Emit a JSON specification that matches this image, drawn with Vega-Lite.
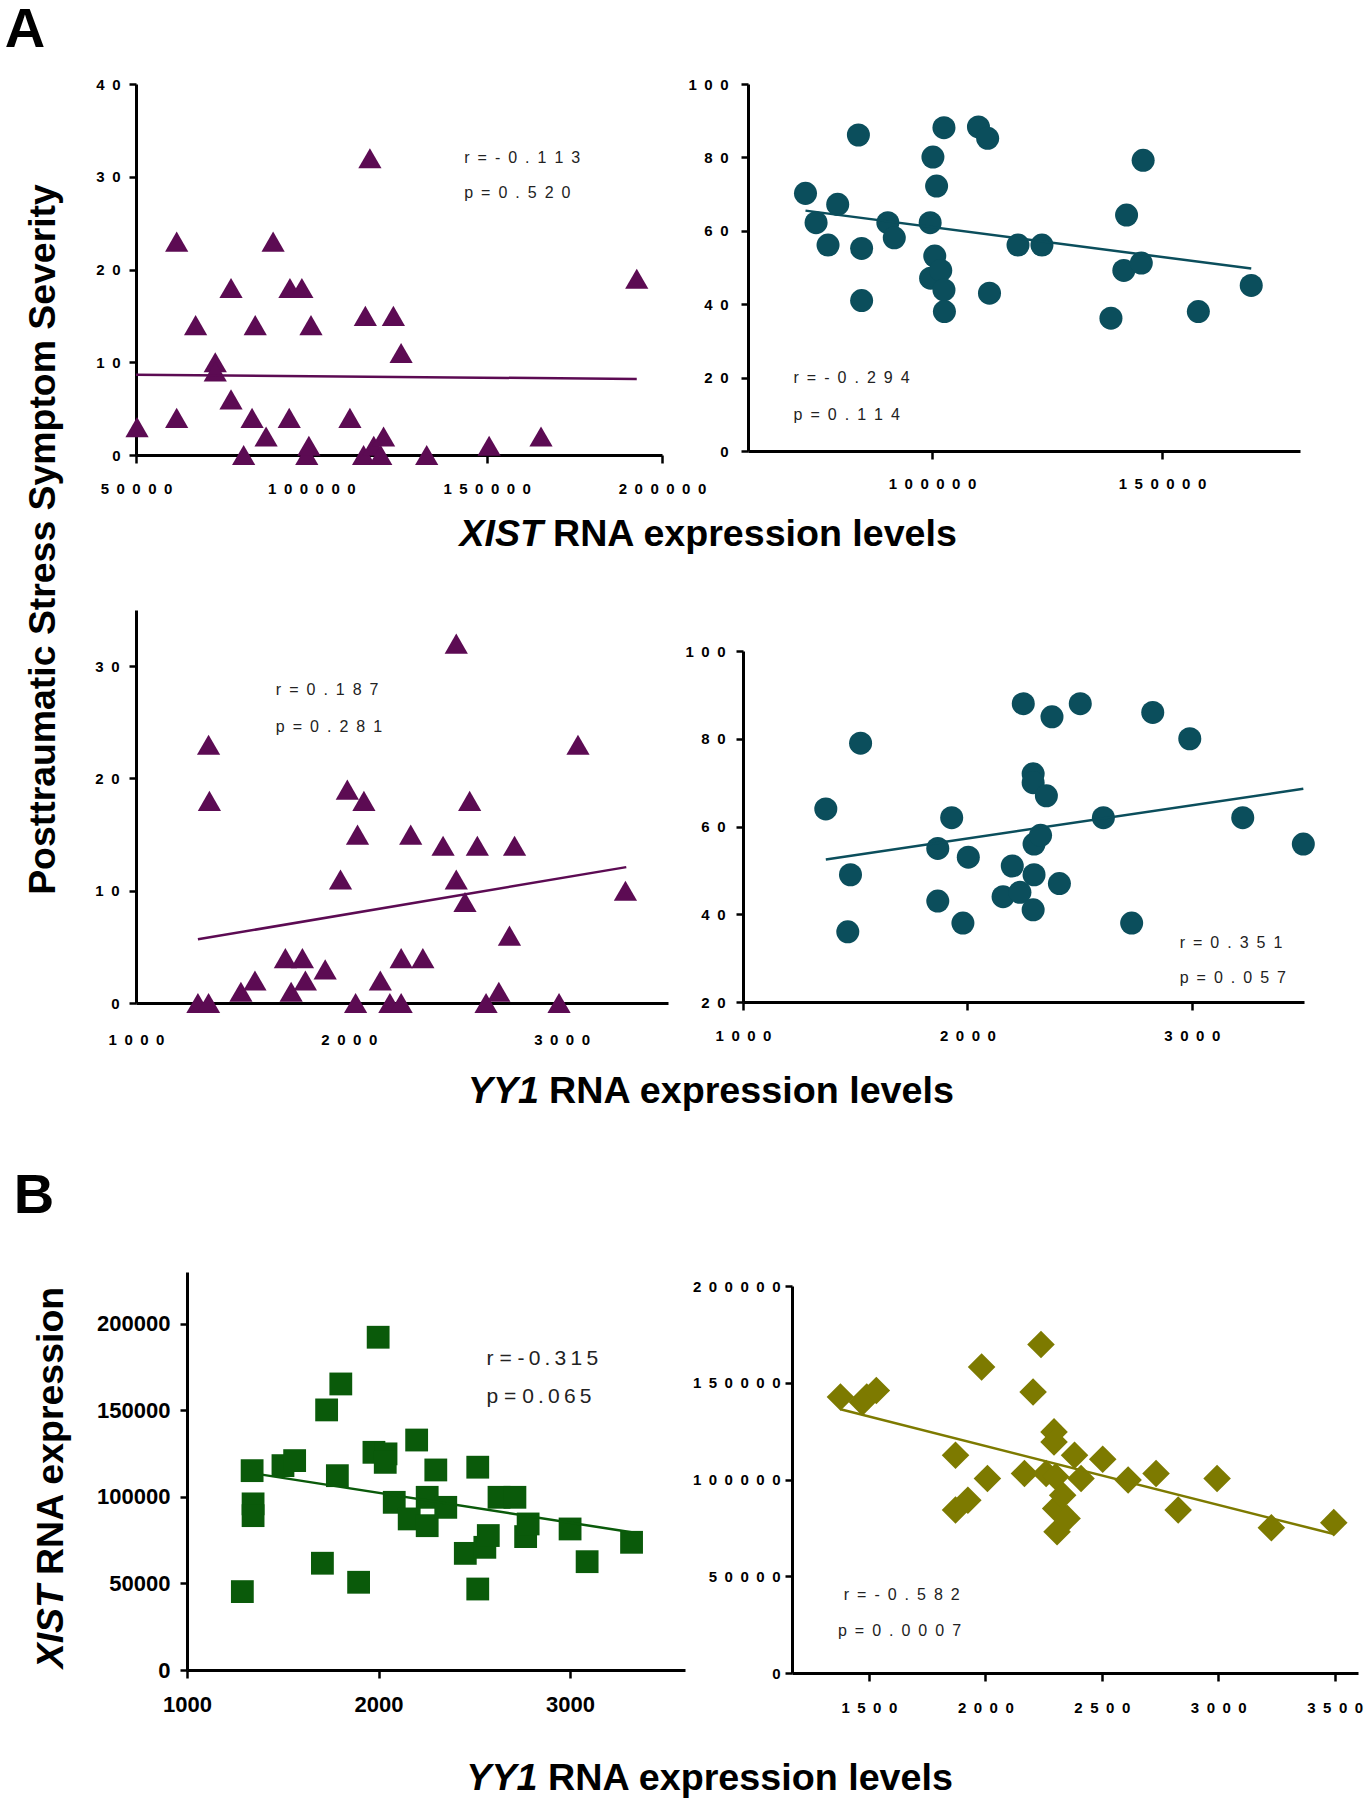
{
 "$schema": "https://vega.github.io/schema/vega-lite/v6.json",
 "padding": 0,
 "background": "white",
 "spacing": 0,
 "bounds": "full",
 "align": "each",
 "config": {
  "view": {"stroke": null},
  "font": "Liberation Sans",
  "axis": {"domainColor": "#000", "domainWidth": 3, "tickColor": "#000", "tickWidth": 2.5, "labelColor": "#000", "labelFont": "Liberation Sans", "labelFontWeight": "bold", "labelFontSize": 15, "grid": false, "labelOverlap": false, "labelFlush": false},
  "text": {"font": "Liberation Sans"}
 },
 "datasets": {
  "p1": [{"x":50300,"y":3},{"x":61600,"y":4},{"x":61600,"y":23},{"x":67000,"y":14},{"x":72600,"y":10},{"x":72600,"y":9},{"x":77100,"y":18},{"x":77100,"y":6},{"x":80700,"y":0},{"x":83100,"y":4},{"x":84000,"y":14},{"x":87100,"y":2},{"x":89100,"y":23},{"x":93900,"y":18},{"x":93700,"y":4},{"x":97300,"y":18},{"x":98700,"y":0},{"x":99300,"y":1},{"x":99900,"y":14},{"x":111000,"y":4},{"x":115400,"y":15},{"x":114900,"y":0},{"x":116700,"y":32},{"x":117800,"y":1},{"x":119800,"y":0},{"x":120600,"y":2},{"x":123400,"y":15},{"x":125600,"y":11},{"x":132900,"y":0},{"x":150700,"y":1},{"x":165500,"y":2},{"x":192800,"y":19}],
  "l1": [{"x":50000,"y":8.65},{"x":192800,"y":8.2}],
  "s1": [{"x":143600,"y":32.0,"label":"r\u2002=\u2002-\u20020\u2002.\u20021\u20021\u20023"},{"x":143600,"y":28.3,"label":"p\u2002=\u20020\u2002.\u20025\u20022\u20020"}],
  "p2": [{"x":72500,"y":70.2},{"x":74800,"y":62.2},{"x":77400,"y":56.1},{"x":79500,"y":67.2},{"x":84000,"y":86.1},{"x":84700,"y":55.2},{"x":84700,"y":41.0},{"x":90400,"y":62.2},{"x":91800,"y":58.1},{"x":99600,"y":62.2},{"x":100200,"y":80.1},{"x":101000,"y":72.2},{"x":100600,"y":53.1},{"x":99700,"y":47.1},{"x":101900,"y":49.2},{"x":102600,"y":43.9},{"x":102700,"y":38.0},{"x":102600,"y":88.1},{"x":110100,"y":88.3},{"x":112100,"y":85.2},{"x":112500,"y":43.0},{"x":118700,"y":56.1},{"x":123900,"y":56.1},{"x":138900,"y":36.2},{"x":141700,"y":49.2},{"x":142300,"y":64.3},{"x":145500,"y":51.2},{"x":145900,"y":79.2},{"x":157900,"y":38.0},{"x":169400,"y":45.1}],
  "l2": [{"x":72500,"y":65.5},{"x":169400,"y":49.7}],
  "s2": [{"x":69900,"y":19.8,"label":"r\u2002=\u2002-\u20020\u2002.\u20022\u20029\u20024"},{"x":69900,"y":9.75,"label":"p\u2002=\u20020\u2002.\u20021\u20021\u20024"}],
  "p3": [{"x":1291,"y":0},{"x":1341,"y":0},{"x":1341,"y":23},{"x":1345,"y":18},{"x":1493,"y":1},{"x":1559,"y":2},{"x":1702,"y":4},{"x":1729,"y":1},{"x":1782,"y":4},{"x":1796,"y":2},{"x":1889,"y":3},{"x":1961,"y":11},{"x":1993,"y":19},{"x":2032,"y":0},{"x":2041,"y":15},{"x":2071,"y":18},{"x":2148,"y":2},{"x":2193,"y":0},{"x":2246,"y":4},{"x":2246,"y":0},{"x":2291,"y":15},{"x":2348,"y":4},{"x":2443,"y":14},{"x":2505,"y":32},{"x":2505,"y":11},{"x":2546,"y":9},{"x":2568,"y":18},{"x":2604,"y":14},{"x":2645,"y":0},{"x":2705,"y":1},{"x":2755,"y":6},{"x":2779,"y":14},{"x":2988,"y":0},{"x":3077,"y":23},{"x":3300,"y":10}],
  "l3": [{"x":1291,"y":5.67},{"x":3304,"y":12.1}],
  "s3": [{"x":1657,"y":27.9,"label":"r\u2002=\u20020\u2002.\u20021\u20028\u20027"},{"x":1657,"y":24.6,"label":"p\u2002=\u20020\u2002.\u20022\u20028\u20021"}],
  "p4": [{"x":1369,"y":64},{"x":1479,"y":49},{"x":1467,"y":36},{"x":1524,"y":79},{"x":1868,"y":55},{"x":1868,"y":43},{"x":1930,"y":62},{"x":2004,"y":53},{"x":1980,"y":38},{"x":2200,"y":51},{"x":2159,"y":44},{"x":2234,"y":45},{"x":2249,"y":88},{"x":2293,"y":72},{"x":2293,"y":70},{"x":2297,"y":56},{"x":2326,"y":58},{"x":2297,"y":49},{"x":2293,"y":41},{"x":2352,"y":67},{"x":2377,"y":85},{"x":2410,"y":47},{"x":2503,"y":88},{"x":2606,"y":62},{"x":2732,"y":38},{"x":2826,"y":86},{"x":2991,"y":80},{"x":3227,"y":62},{"x":3497,"y":56}],
  "l4": [{"x":1369,"y":52.5},{"x":3497,"y":68.6}],
  "s4": [{"x":2946,"y":33.4,"label":"r\u2002=\u20020\u2002.\u20023\u20025\u20021"},{"x":2946,"y":25.4,"label":"p\u2002=\u20020\u2002.\u20020\u20025\u20027"}],
  "p5": [{"x":1289,"y":45300},{"x":1340,"y":115200},{"x":1345,"y":96000},{"x":1345,"y":89200},{"x":1501,"y":118100},{"x":1562,"y":121000},{"x":1707,"y":61700},{"x":1729,"y":150300},{"x":1803,"y":165300},{"x":1785,"y":112300},{"x":1896,"y":50700},{"x":1976,"y":125800},{"x":1998,"y":192300},{"x":2039,"y":124900},{"x":2035,"y":120000},{"x":2082,"y":96900},{"x":2160,"y":87300},{"x":2199,"y":132900},{"x":2254,"y":99800},{"x":2254,"y":83400},{"x":2299,"y":115600},{"x":2351,"y":94000},{"x":2453,"y":67400},{"x":2518,"y":117200},{"x":2518,"y":46800},{"x":2555,"y":70900},{"x":2573,"y":77700},{"x":2629,"y":99800},{"x":2712,"y":99800},{"x":2768,"y":77100},{"x":2781,"y":84400},{"x":3000,"y":81500},{"x":3089,"y":62600},{"x":3321,"y":73800}],
  "l5": [{"x":1390,"y":112900},{"x":3321,"y":79600}],
  "s5": [{"x":2564,"y":179800,"label":"r = -\u20090\u2009.\u20093\u20091\u20095"},{"x":2564,"y":157600,"label":"p = 0\u2009.\u20090\u20096\u20095"}],
  "p6": [{"x":1378,"y":142600},{"x":1472,"y":140000},{"x":1491,"y":142600},{"x":1532,"y":146000},{"x":1872,"y":112500},{"x":1872,"y":84200},{"x":1925,"y":89300},{"x":1984,"y":158100},{"x":2009,"y":100500},{"x":2168,"y":103100},{"x":2205,"y":145200},{"x":2239,"y":169800},{"x":2261,"y":103100},{"x":2295,"y":124600},{"x":2295,"y":119400},{"x":2302,"y":101400},{"x":2302,"y":85000},{"x":2308,"y":73000},{"x":2332,"y":91900},{"x":2351,"y":79900},{"x":2383,"y":112500},{"x":2411,"y":100500},{"x":2504,"y":110500},{"x":2613,"y":99700},{"x":2733,"y":103100},{"x":2828,"y":84200},{"x":2995,"y":100500},{"x":3228,"y":75100},{"x":3496,"y":77700}],
  "l6": [{"x":1378,"y":136300},{"x":3496,"y":71800}],
  "s6": [{"x":1392,"y":40400,"label":"r\u2002=\u2002-\u20020\u2002.\u20025\u20028\u20022"},{"x":1367,"y":21500,"label":"p\u2002=\u20020\u2002.\u20020\u20020\u20020\u20027"}]
 },
 "vconcat": [
  {"width": 60, "height": 77, "data": {"values": [{}]}, "mark": {"type": "text", "text": "A", "fontSize": 56, "fontWeight": "bold", "align": "center", "baseline": "middle", "dx": -5, "dy": -9, "color": "#000"}, "encoding": {}},
  {"hconcat": [
    {"width": 94, "height": 1065, "data": {"values": [{}]}, "mark": {"type": "text", "text": "Posttraumatic Stress Symptom Severity", "angle": 270, "fontSize": 37.4, "fontWeight": "bold", "align": "center", "baseline": "middle", "dx": 77, "dy": -3, "color": "#000"}, "encoding": {}},
    {"vconcat": [
      {"hconcat": [
        {"width": 526, "height": 371,
         "encoding": {
          "x": {"field": "x", "type": "quantitative", "title": null, "scale": {"domain": [50000, 200000], "nice": false, "zero": false}, "axis": {"values": [50000, 100000, 150000, 200000], "format": "d", "labelExpr": "join(split(datum.label, ''), '\u2002')", "tickSize": 8, "labelPadding": 18}},
          "y": {"field": "y", "type": "quantitative", "title": null, "scale": {"domain": [0, 40], "nice": false, "zero": false}, "axis": {"values": [0, 10, 20, 30, 40], "format": "d", "labelExpr": "join(split(datum.label, ''), '\u2002')", "tickSize": 7, "labelPadding": 9}}
         },
         "layer": [
          {"data": {"name": "p1"}, "mark": {"type": "point", "shape": "triangle-up", "filled": true, "size": 540, "color": "#5c0b53", "opacity": 1}},
          {"data": {"name": "l1"}, "mark": {"type": "line", "color": "#5c0b53", "strokeWidth": 2.5}, "encoding": {}},
          {"data": {"name": "s1"}, "mark": {"type": "text", "align": "left", "baseline": "middle", "fontSize": 16, "color": "#222"}, "encoding": {"text": {"field": "label"}}}
         ]},
        {"width": 552, "height": 367,
         "encoding": {
          "x": {"field": "x", "type": "quantitative", "title": null, "scale": {"domain": [60000, 180000], "nice": false, "zero": false}, "axis": {"values": [100000, 150000], "format": "d", "labelExpr": "join(split(datum.label, ''), '\u2002')", "tickSize": 8, "labelPadding": 17}},
          "y": {"field": "y", "type": "quantitative", "title": null, "scale": {"domain": [0, 100], "nice": false, "zero": false}, "axis": {"values": [0, 20, 40, 60, 80, 100], "format": "d", "labelExpr": "join(split(datum.label, ''), '\u2002')", "tickSize": 7, "labelPadding": 13}}
         },
         "layer": [
          {"data": {"name": "p2"}, "mark": {"type": "point", "shape": "circle", "filled": true, "size": 530, "color": "#0b4e5c", "opacity": 1}},
          {"data": {"name": "l2"}, "mark": {"type": "line", "color": "#0b4e5c", "strokeWidth": 2.5}, "encoding": {}},
          {"data": {"name": "s2"}, "mark": {"type": "text", "align": "left", "baseline": "middle", "fontSize": 16, "color": "#222"}, "encoding": {"text": {"field": "label"}}}
         ]}
      ], "spacing": 86, "bounds": "flush", "align": "each"},
      {"width": 1170, "height": 114, "data": {"values": [{}]},
       "layer": [
        {"mark": {"type": "text", "text": "XIST", "fontSize": 37.6, "fontWeight": "bold", "fontStyle": "italic", "align": "right", "baseline": "middle", "dx": -178, "dy": -18, "color": "#000"}, "encoding": {}},
        {"mark": {"type": "text", "text": "RNA expression levels", "fontSize": 37.6, "fontWeight": "bold", "align": "left", "baseline": "middle", "dx": -168, "dy": -18, "color": "#000"}, "encoding": {}}
       ]},
      {"hconcat": [
        {"width": 532, "height": 393,
         "encoding": {
          "x": {"field": "x", "type": "quantitative", "title": null, "scale": {"domain": [1000, 3500], "nice": false, "zero": false}, "axis": {"values": [1000, 2000, 3000], "format": "d", "labelExpr": "join(split(datum.label, ''), '\u2002')", "ticks": false, "tickSize": 0, "labelPadding": 29}},
          "y": {"field": "y", "type": "quantitative", "title": null, "scale": {"domain": [0, 35], "nice": false, "zero": false}, "axis": {"values": [0, 10, 20, 30], "format": "d", "labelExpr": "join(split(datum.label, ''), '\u2002')", "tickSize": 7, "labelPadding": 10}}
         },
         "layer": [
          {"data": {"name": "p3"}, "mark": {"type": "point", "shape": "triangle-up", "filled": true, "size": 540, "color": "#5c0b53", "opacity": 1}},
          {"data": {"name": "l3"}, "mark": {"type": "line", "color": "#5c0b53", "strokeWidth": 2.5}, "encoding": {}},
          {"data": {"name": "s3"}, "mark": {"type": "text", "align": "left", "baseline": "middle", "fontSize": 16, "color": "#222"}, "encoding": {"text": {"field": "label"}}}
         ]},
        {"vconcat": [
          {"width": 1, "height": 41, "data": {"values": [{}]}, "mark": {"type": "text", "text": ""}, "encoding": {}},
          {"width": 561, "height": 351,
           "encoding": {
            "x": {"field": "x", "type": "quantitative", "title": null, "scale": {"domain": [1000, 3500], "nice": false, "zero": false}, "axis": {"values": [1000, 2000, 3000], "format": "d", "labelExpr": "join(split(datum.label, ''), '\u2002')", "tickSize": 8, "labelPadding": 18}},
            "y": {"field": "y", "type": "quantitative", "title": null, "scale": {"domain": [20, 100], "nice": false, "zero": false}, "axis": {"values": [20, 40, 60, 80, 100], "format": "d", "labelExpr": "join(split(datum.label, ''), '\u2002')", "tickSize": 7, "labelPadding": 11}}
           },
           "layer": [
            {"data": {"name": "p4"}, "mark": {"type": "point", "shape": "circle", "filled": true, "size": 530, "color": "#0b4e5c", "opacity": 1}},
            {"data": {"name": "l4"}, "mark": {"type": "line", "color": "#0b4e5c", "strokeWidth": 2.5}, "encoding": {}},
            {"data": {"name": "s4"}, "mark": {"type": "text", "align": "left", "baseline": "middle", "fontSize": 16, "color": "#222"}, "encoding": {"text": {"field": "label"}}}
           ]}
        ], "spacing": 0, "bounds": "flush", "align": "each"}
      ], "spacing": 75, "bounds": "flush", "align": "each"},
      {"width": 1170, "height": 100, "data": {"values": [{}]},
       "layer": [
        {"mark": {"type": "text", "text": "YY1", "fontSize": 37.7, "fontWeight": "bold", "fontStyle": "italic", "align": "right", "baseline": "middle", "dx": -182, "dy": -5, "color": "#000"}, "encoding": {}},
        {"mark": {"type": "text", "text": "RNA expression levels", "fontSize": 37.7, "fontWeight": "bold", "align": "left", "baseline": "middle", "dx": -172, "dy": -5, "color": "#000"}, "encoding": {}}
       ]}
    ], "spacing": 0, "bounds": "full", "align": "each"}
  ], "spacing": 0, "bounds": "full", "align": "each"},
  {"width": 60, "height": 123, "data": {"values": [{}]}, "mark": {"type": "text", "text": "B", "fontSize": 56, "fontWeight": "bold", "align": "center", "baseline": "middle", "dx": 4, "dy": -14.5, "color": "#000"}, "encoding": {}},
  {"hconcat": [
    {"width": 96, "height": 398, "data": {"values": [{}]},
     "layer": [
      {"mark": {"type": "text", "text": "XIST", "angle": 270, "fontSize": 37.5, "fontWeight": "bold", "fontStyle": "italic", "align": "right", "baseline": "middle", "dx": -114, "dy": 4, "color": "#000"}, "encoding": {}},
      {"mark": {"type": "text", "text": "RNA expression", "angle": 270, "fontSize": 37.5, "fontWeight": "bold", "align": "left", "baseline": "middle", "dx": -104, "dy": 4, "color": "#000"}, "encoding": {}}
     ]},
    {"hconcat": [
      {"width": 498, "height": 398,
       "encoding": {
        "x": {"field": "x", "type": "quantitative", "title": null, "scale": {"domain": [1000, 3600], "nice": false, "zero": false}, "axis": {"values": [1000, 2000, 3000], "format": "d", "tickSize": 8, "labelPadding": 16, "labelFontSize": 22}},
        "y": {"field": "y", "type": "quantitative", "title": null, "scale": {"domain": [0, 230000], "nice": false, "zero": false}, "axis": {"values": [0, 50000, 100000, 150000, 200000], "format": "d", "tickSize": 7, "labelPadding": 10, "labelFontSize": 22}}
       },
       "layer": [
        {"data": {"name": "p5"}, "mark": {"type": "point", "shape": "square", "filled": true, "size": 520, "color": "#0a5a0a", "opacity": 1}},
        {"data": {"name": "l5"}, "mark": {"type": "line", "color": "#0a5a0a", "strokeWidth": 2.5}, "encoding": {}},
        {"data": {"name": "s5"}, "mark": {"type": "text", "align": "left", "baseline": "middle", "fontSize": 21, "color": "#222"}, "encoding": {"text": {"field": "label"}}}
       ]},
      {"vconcat": [
        {"width": 1, "height": 14, "data": {"values": [{}]}, "mark": {"type": "text", "text": ""}, "encoding": {}},
        {"width": 566, "height": 387,
         "encoding": {
          "x": {"field": "x", "type": "quantitative", "title": null, "scale": {"domain": [1170, 3600], "nice": false, "zero": false}, "axis": {"values": [1500, 2000, 2500, 3000, 3500], "format": "d", "labelExpr": "join(split(datum.label, ''), '\u2002')", "tickSize": 8, "labelPadding": 19}},
          "y": {"field": "y", "type": "quantitative", "title": null, "scale": {"domain": [0, 200000], "nice": false, "zero": false}, "axis": {"values": [0, 50000, 100000, 150000, 200000], "format": "d", "labelExpr": "join(split(datum.label, ''), '\u2002')", "tickSize": 7, "labelPadding": 5}}
         },
         "layer": [
          {"data": {"name": "p6"}, "mark": {"type": "point", "shape": "diamond", "filled": true, "size": 760, "color": "#7d7a00", "opacity": 1}},
          {"data": {"name": "l6"}, "mark": {"type": "line", "color": "#7d7a00", "strokeWidth": 2.5}, "encoding": {}},
          {"data": {"name": "s6"}, "mark": {"type": "text", "align": "left", "baseline": "middle", "fontSize": 16, "color": "#222"}, "encoding": {"text": {"field": "label"}}}
         ]}
      ], "spacing": 0, "bounds": "flush", "align": "each"}
    ], "spacing": 107, "bounds": "flush", "align": "each"}
  ], "spacing": 0, "bounds": "full", "align": "each"},
  {"width": 1366, "height": 100, "data": {"values": [{}]},
   "layer": [
    {"mark": {"type": "text", "text": "YY1", "fontSize": 37.7, "fontWeight": "bold", "fontStyle": "italic", "align": "right", "baseline": "middle", "dx": -145.5, "dy": 14, "color": "#000"}, "encoding": {}},
    {"mark": {"type": "text", "text": "RNA expression levels", "fontSize": 37.7, "fontWeight": "bold", "align": "left", "baseline": "middle", "dx": -135, "dy": 14, "color": "#000"}, "encoding": {}}
   ]}
 ]
}
